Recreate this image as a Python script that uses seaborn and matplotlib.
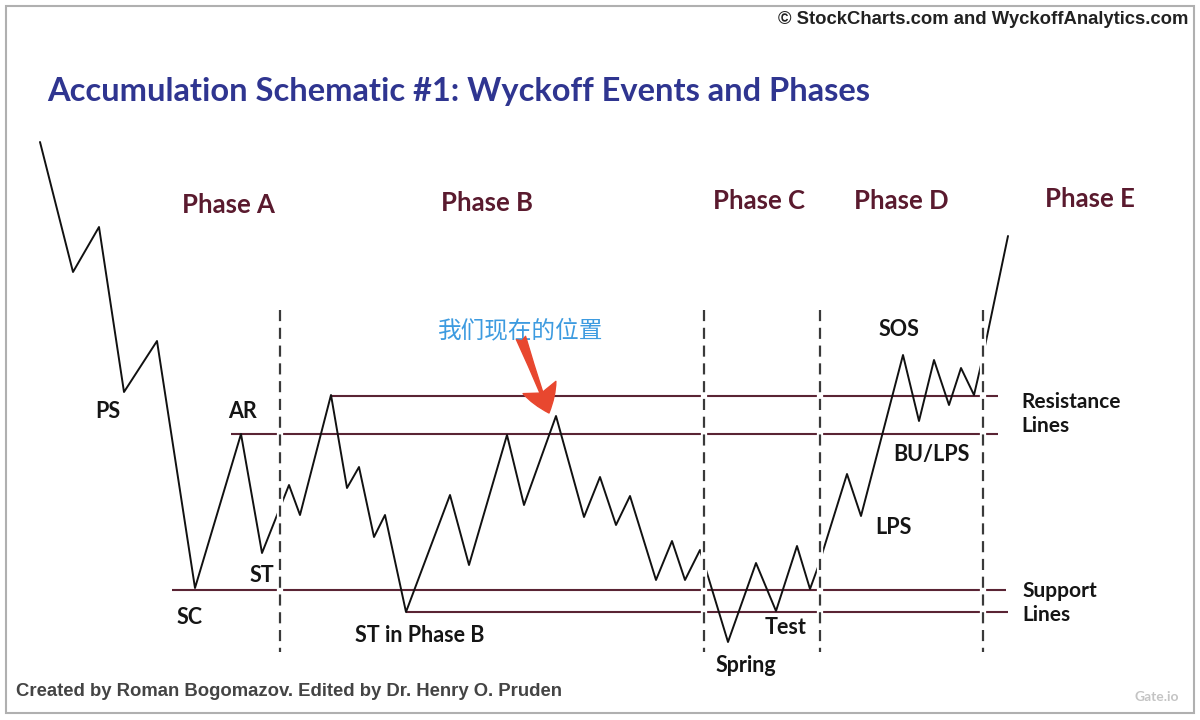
import matplotlib
matplotlib.use("Agg")
import matplotlib.pyplot as plt
import seaborn as sns
from matplotlib.patches import Rectangle

# Price path of the schematic (x = time, y = level measured downward)
path_x = [40, 73, 99, 124, 157, 195, 241, 262, 289, 300, 331, 347, 359, 374, 385,
          406, 450, 469, 507, 524, 556, 584, 600, 616, 630, 656, 672, 685, 700,
          728, 756, 776, 797, 810, 818, 847, 861, 903, 919, 934, 949, 961, 974,
          981, 1008]
path_y = [142, 272, 227, 392, 341, 588, 434, 553, 485, 515, 395, 488, 467, 537, 515,
          612, 495, 565, 435, 505, 416, 517, 477, 525, 496, 580, 541, 580, 550,
          642, 563, 611, 546, 589, 567, 474, 516, 355, 421, 360, 405, 368, 395,
          365, 236]

# Resistance / support lines: level, start, end
level_y = [396, 434, 590, 612]
level_start = [331, 231, 172, 406]
level_end = [998, 998, 1006, 1008]

# Phase boundaries
phase_x = [280, 704, 820, 983]
phase_top, phase_bottom = 310, 652

phase_names = ["Phase A", "Phase B", "Phase C", "Phase D", "Phase E"]
phase_label_x = [228, 487, 759, 901, 1090]
phase_label_y = [205, 203, 201, 201, 199]

event_names = ["PS", "AR", "SC", "ST", "ST in Phase B", "Spring", "Test",
               "LPS", "BU/LPS", "SOS"]
event_x = [108, 243, 190, 262, 420, 746, 786, 893, 931, 899]
event_y = [412, 411, 617, 575, 636, 665, 628, 527, 455, 329]

sns.set_theme(style="white")
plt.rcParams["font.family"] = ["Lato", "DejaVu Sans"]

fig = plt.figure(figsize=(12, 7.2), dpi=100)
ax = fig.add_axes([0, 0, 1, 1])
ax.set_xlim(0, 1200)
ax.set_ylim(720, 0)
ax.axis("off")

# support / resistance lines
ax.hlines(level_y, level_start, level_end, color="#5a2434", lw=1.5, zorder=2)

# price path
sns.lineplot(x=path_x, y=path_y, sort=False, estimator=None, color="#111111",
             lw=1.4, ax=ax, zorder=3)

# dashed phase dividers with a white gap behind them
ax.vlines(phase_x, phase_top, phase_bottom, color="white", lw=4.5, zorder=4)
ax.vlines(phase_x, phase_top, phase_bottom, color="#3a3a3a", lw=1.6,
          linestyles=(0, (5, 3)), zorder=5)

for name, x, y in zip(phase_names, phase_label_x, phase_label_y):
    ax.text(x, y, name, color="#5a1a2e", fontsize=18.5, fontweight="bold",
            ha="center", va="center")

for name, x, y in zip(event_names, event_x, event_y):
    ax.text(x, y, name, color="#151515", fontsize=15.5, fontweight="bold",
            ha="center", va="center")

ax.text(1021, 414, "Resistance\nLines", color="#151515", fontsize=15,
        fontweight="bold", ha="left", va="center", linespacing=1.2)
ax.text(1022, 603, "Support\nLines", color="#151515", fontsize=15,
        fontweight="bold", ha="left", va="center", linespacing=1.2)

ax.text(47, 92, "Accumulation Schematic #1: Wyckoff Events and Phases",
        color="#2f3590", fontsize=23.5, fontweight="bold", ha="left", va="center")

ax.text(1188, 20, "© StockCharts.com and WyckoffAnalytics.com",
        family=["Liberation Sans", "DejaVu Sans"], color="#222222", fontsize=13.3,
        fontweight="bold", ha="right", va="center")
ax.text(16, 692, "Created by Roman Bogomazov. Edited by Dr. Henry O. Pruden",
        family=["Liberation Sans", "DejaVu Sans"], color="#444444", fontsize=13.3,
        fontweight="bold", ha="left", va="center")

# annotation: "where we are now"
ax.text(438, 331, "我们现在的位置", family=["Noto Sans CJK SC", "DejaVu Sans"],
        color="#3d9be0", fontsize=17, ha="left", va="center")
ax.annotate("", xy=(549, 413), xytext=(521, 338),
            arrowprops=dict(arrowstyle="fancy,head_length=1.4,head_width=1.8,tail_width=0.5",
                            color="#e8472f", shrinkA=0, shrinkB=0, mutation_scale=14),
            zorder=6)

ax.text(1157, 697, "Gate.io", color="#c4c4c4", fontsize=10, fontweight="bold",
        ha="center", va="center")

ax.add_patch(Rectangle((6, 6), 1188, 707, fill=False, edgecolor="#b0b0b0", lw=1.5))

fig.savefig("out.png", dpi=100, facecolor="white")
